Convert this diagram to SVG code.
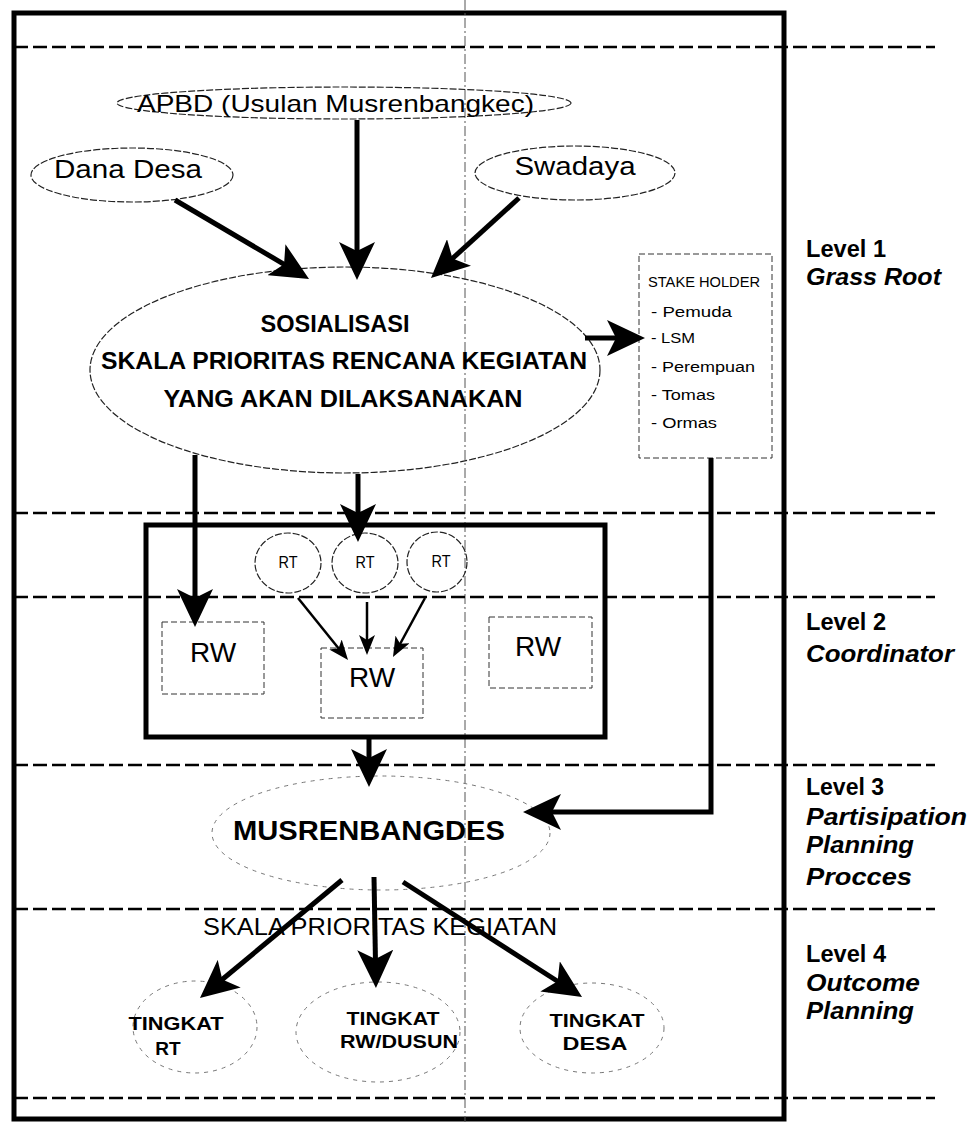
<svg xmlns="http://www.w3.org/2000/svg" width="968" height="1122" viewBox="0 0 968 1122">
<style>
text{font-family:"Liberation Sans",Arial,sans-serif;fill:#000}
.frame{fill:none;stroke:#000;stroke-width:5}
.hdash{stroke:#000;stroke-width:2.5;stroke-dasharray:14 5}
.vfold{stroke:#555;stroke-width:1;stroke-dasharray:10 3 2 3}
.el{fill:none;stroke:#222;stroke-width:1.2;stroke-dasharray:7 2}
.faint{fill:none;stroke:#777;stroke-width:1;stroke-dasharray:4 5}
.box{fill:none;stroke:#333;stroke-width:1;stroke-dasharray:6 3}
.cbox{fill:none;stroke:#000;stroke-width:5}
.thick{stroke:#000;stroke-width:5;fill:none;marker-end:url(#ah)}
.thin{stroke:#000;stroke-width:2.5;fill:none;marker-end:url(#ahs)}
.lvl{font-size:23px;font-weight:bold}
.lvli{font-size:23px;font-weight:bold;font-style:italic}
.b{font-weight:bold}
</style>
<defs>
<marker id="ah" markerUnits="userSpaceOnUse" markerWidth="38" markerHeight="36" viewBox="0 0 38 36" refX="13" refY="18" orient="auto"><path d="M0,0 L38,18 L0,36 L9,18 z" fill="#000"/></marker>
<marker id="ahs" markerUnits="userSpaceOnUse" markerWidth="20" markerHeight="16" viewBox="0 0 20 16" refX="8" refY="8" orient="auto"><path d="M0,0 L20,8 L0,16 L5,8 z" fill="#000"/></marker>
</defs>
<rect width="968" height="1122" fill="#fff"/>
<g id="frame">
<rect class="frame" x="14" y="13" width="770" height="1106"/>
<line class="vfold" x1="465" y1="0" x2="465" y2="1122"/>
<line class="hdash" x1="14" y1="47" x2="935" y2="47"/>
<line class="hdash" x1="14" y1="513" x2="935" y2="513"/>
<line class="hdash" x1="14" y1="597" x2="935" y2="597"/>
<line class="hdash" x1="14" y1="765" x2="935" y2="765"/>
<line class="hdash" x1="14" y1="909" x2="935" y2="909"/>
<line class="hdash" x1="14" y1="1098" x2="935" y2="1098"/>
</g>
<g id="levels">
<text class="lvl" x="806" y="257" textLength="80" lengthAdjust="spacingAndGlyphs">Level 1</text>
<text class="lvli" x="806" y="285" textLength="135" lengthAdjust="spacingAndGlyphs">Grass Root</text>
<text class="lvl" x="806" y="630" textLength="80" lengthAdjust="spacingAndGlyphs">Level 2</text>
<text class="lvli" x="806" y="662" textLength="148" lengthAdjust="spacingAndGlyphs">Coordinator</text>
<text class="lvl" x="806" y="795" textLength="78" lengthAdjust="spacingAndGlyphs">Level 3</text>
<text class="lvli" x="806" y="825" textLength="161" lengthAdjust="spacingAndGlyphs">Partisipation</text>
<text class="lvli" x="806" y="853" textLength="108" lengthAdjust="spacingAndGlyphs">Planning</text>
<text class="lvli" x="806" y="885" textLength="106" lengthAdjust="spacingAndGlyphs">Procces</text>
<text class="lvl" x="806" y="962" textLength="80" lengthAdjust="spacingAndGlyphs">Level 4</text>
<text class="lvli" x="806" y="991" textLength="114" lengthAdjust="spacingAndGlyphs">Outcome</text>
<text class="lvli" x="806" y="1019" textLength="108" lengthAdjust="spacingAndGlyphs">Planning</text>
</g>
<g id="apbd">
<ellipse class="el" cx="344" cy="103" rx="227" ry="16"/>
<text x="137" y="112" font-size="24" textLength="397" lengthAdjust="spacingAndGlyphs">APBD (Usulan Musrenbangkec)</text>
</g>
<g id="dana-desa">
<ellipse class="el" cx="132" cy="175" rx="101" ry="27"/>
<text x="128" y="178" font-size="25" text-anchor="middle" textLength="148" lengthAdjust="spacingAndGlyphs">Dana Desa</text>
</g>
<g id="swadaya">
<ellipse class="el" cx="575" cy="173" rx="100" ry="27"/>
<text x="575" y="175" font-size="25" text-anchor="middle" textLength="121" lengthAdjust="spacingAndGlyphs">Swadaya</text>
</g>
<g id="sosialisasi">
<ellipse class="el" cx="345" cy="370" rx="255" ry="103"/>
<text class="b" x="335" y="332" font-size="24" text-anchor="middle" textLength="149" lengthAdjust="spacingAndGlyphs">SOSIALISASI</text>
<text class="b" x="101" y="369" font-size="24" textLength="486" lengthAdjust="spacingAndGlyphs">SKALA PRIORITAS RENCANA KEGIATAN</text>
<text class="b" x="343" y="407" font-size="24" text-anchor="middle" textLength="359" lengthAdjust="spacingAndGlyphs">YANG AKAN DILAKSANAKAN</text>
</g>
<g id="stakeholder">
<rect class="box" x="639" y="254" width="133" height="204"/>
<text x="648" y="287" font-size="14" textLength="112" lengthAdjust="spacingAndGlyphs">STAKE HOLDER</text>
<text x="651" y="317" font-size="14" textLength="81" lengthAdjust="spacingAndGlyphs">- Pemuda</text>
<text x="651" y="343" font-size="14" textLength="44" lengthAdjust="spacingAndGlyphs">- LSM</text>
<text x="651" y="372" font-size="14" textLength="104" lengthAdjust="spacingAndGlyphs">- Perempuan</text>
<text x="651" y="400" font-size="14" textLength="64" lengthAdjust="spacingAndGlyphs">- Tomas</text>
<text x="651" y="428" font-size="14" textLength="66" lengthAdjust="spacingAndGlyphs">- Ormas</text>
</g>
<g id="coordinator">
<rect class="cbox" x="146" y="525" width="459" height="212"/>
</g>
<g id="rt1">
<ellipse class="el" cx="288" cy="563" rx="33" ry="30"/>
<text x="288" y="568" font-size="17" text-anchor="middle" textLength="19" lengthAdjust="spacingAndGlyphs">RT</text>
</g>
<g id="rt2">
<ellipse class="el" cx="365" cy="563" rx="33" ry="30"/>
<text x="365" y="568" font-size="17" text-anchor="middle" textLength="19" lengthAdjust="spacingAndGlyphs">RT</text>
</g>
<g id="rt3">
<ellipse class="el" cx="437" cy="562" rx="30" ry="30"/>
<text x="441" y="567" font-size="17" text-anchor="middle" textLength="19" lengthAdjust="spacingAndGlyphs">RT</text>
</g>
<g id="rw1">
<rect class="box" x="162" y="622" width="102" height="72"/>
<text x="213" y="662" font-size="28" text-anchor="middle">RW</text>
</g>
<g id="rw2">
<rect class="box" x="321" y="648" width="102" height="70"/>
<text x="372" y="687" font-size="28" text-anchor="middle">RW</text>
</g>
<g id="rw3">
<rect class="box" x="489" y="617" width="103" height="71"/>
<text x="538" y="656" font-size="28" text-anchor="middle">RW</text>
</g>
<g id="musrenbangdes">
<ellipse class="faint" cx="381" cy="833" rx="169" ry="57"/>
<text class="b" x="369" y="840" font-size="27" text-anchor="middle" textLength="272" lengthAdjust="spacingAndGlyphs">MUSRENBANGDES</text>
</g>
<g id="skala-label">
<text x="203" y="935" font-size="23" textLength="354" lengthAdjust="spacingAndGlyphs">SKALA PRIORITAS KEGIATAN</text>
</g>
<g id="tingkat-rt">
<ellipse class="faint" cx="195" cy="1027" rx="62" ry="46"/>
<text class="b" x="176" y="1030" font-size="19" text-anchor="middle" textLength="95" lengthAdjust="spacingAndGlyphs">TINGKAT</text>
<text class="b" x="168" y="1055" font-size="19" text-anchor="middle">RT</text>
</g>
<g id="tingkat-rw">
<ellipse class="faint" cx="378" cy="1032" rx="82" ry="50"/>
<text class="b" x="393" y="1025" font-size="19" text-anchor="middle" textLength="93" lengthAdjust="spacingAndGlyphs">TINGKAT</text>
<text class="b" x="399" y="1048" font-size="19" text-anchor="middle" textLength="118" lengthAdjust="spacingAndGlyphs">RW/DUSUN</text>
</g>
<g id="tingkat-desa">
<ellipse class="faint" cx="592" cy="1028" rx="72" ry="45"/>
<text class="b" x="597" y="1027" font-size="19" text-anchor="middle" textLength="95" lengthAdjust="spacingAndGlyphs">TINGKAT</text>
<text class="b" x="595" y="1050" font-size="19" text-anchor="middle" textLength="65" lengthAdjust="spacingAndGlyphs">DESA</text>
</g>
<g id="connectors">
<line class="thick" x1="175" y1="200" x2="287.5" y2="266.3"/>
<line class="thick" x1="357" y1="120" x2="357" y2="255"/>
<line class="thick" x1="519" y1="198" x2="449.5" y2="261.2"/>
<line class="thick" x1="585" y1="338" x2="620" y2="338"/>
<line class="thick" x1="195" y1="455" x2="195" y2="602"/>
<line class="thick" x1="358" y1="474" x2="358" y2="517"/>
<line class="thin" x1="298" y1="598" x2="340.5" y2="650.7"/>
<line class="thin" x1="367" y1="602" x2="367" y2="643"/>
<line class="thin" x1="425" y1="598" x2="398.7" y2="646.5"/>
<line class="thick" x1="369" y1="737" x2="369" y2="762"/>
<path class="thick" d="M711,458 V812 H548"/>
<line class="thick" x1="342" y1="880" x2="219.2" y2="982"/>
<line class="thick" x1="374" y1="877" x2="375.5" y2="963"/>
<line class="thick" x1="403" y1="882" x2="561" y2="983.5"/>
</g>
</svg>
